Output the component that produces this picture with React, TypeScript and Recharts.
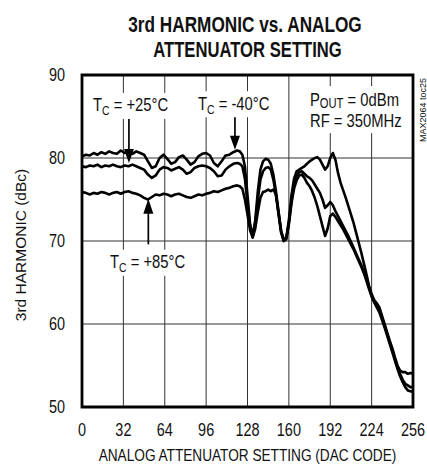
import React from 'react';
import {
  LineChart,
  Line,
  XAxis,
  YAxis,
  CartesianGrid,
  ReferenceArea,
  ReferenceLine,
  ReferenceDot,
} from 'recharts';

// DAC code (x axis)
const codes = [
  0, 3, 6, 9, 12, 15, 18, 21, 24, 27, 30, 33, 36, 39, 42, 45, 48, 51, 54, 57,
  60, 63, 66, 69, 72, 75, 78, 81, 84, 87, 90, 93, 96, 99, 102, 105, 108, 111,
  114, 117, 120, 122, 124, 126, 128, 130, 132, 134, 136, 138, 140, 142, 144,
  146, 148, 150, 152, 154, 156, 158, 160, 162, 164, 166, 168, 170, 172, 174,
  176, 178, 180, 182, 184, 186, 188, 190, 192, 194, 196, 198, 200, 202, 204,
  206, 208, 210, 212, 214, 216, 218, 220, 222, 224, 226, 228, 230, 232, 234,
  236, 238, 240, 242, 244, 246, 248, 250, 252, 254, 256,
];

// 3rd harmonic (dBc), TC = -40°C
const tcMinus40 = [
  80.2, 80.4, 80.3, 80.6, 80.4, 80.7, 80.5, 80.8, 80.6, 80.5, 80.9, 80.6, 80.7,
  80.5, 80.8, 80.6, 80.4, 79.6, 78.8, 79.0, 80.0, 80.4, 79.9, 79.3, 79.5, 80.1,
  80.3, 79.8, 79.2, 79.5, 80.2, 80.5, 80.6, 80.3, 79.4, 79.0, 79.6, 80.3, 80.4,
  80.7, 80.9, 80.8, 80.4, 79.0, 75.5, 72.0, 70.6, 72.5, 76.0, 78.6, 79.6, 79.9,
  79.8, 79.3, 78.0, 76.0, 73.5, 71.2, 70.2, 70.4, 72.5, 75.5, 77.5, 78.4, 78.6,
  78.8, 79.0, 79.3, 79.6, 79.8, 80.0, 80.1, 79.8, 79.2, 78.6, 79.0, 80.0, 80.6,
  79.8, 78.2, 77.0, 76.1, 75.2, 74.2, 73.2, 72.2, 71.0, 69.8, 68.6, 67.3, 66.0,
  64.6, 63.6, 62.9, 62.5, 62.0, 61.0, 60.0, 59.0, 58.0, 57.1, 56.0, 55.0, 54.4,
  54.2, 54.2, 54.0, 54.1, 54.0,
];

// 3rd harmonic (dBc), TC = +25°C
const tcPlus25 = [
  79.0, 78.9, 79.1, 79.0, 79.2, 78.9, 79.1, 79.0, 79.2, 79.0, 78.9, 79.1, 79.0,
  79.2, 79.0, 78.8, 78.6, 78.0, 77.6, 77.9, 78.6, 78.9, 78.8, 78.5, 78.7, 78.9,
  78.6, 78.1, 78.3, 78.8, 79.0, 79.1, 79.0, 78.8, 78.4, 77.8, 77.9, 78.6, 79.0,
  79.3, 79.4, 79.3, 79.0, 77.5, 74.5, 71.8, 70.5, 72.2, 75.0, 77.4, 78.4, 78.8,
  78.9, 78.6, 77.4, 75.5, 73.2, 71.0, 70.0, 70.2, 72.2, 74.8, 76.8, 77.9, 78.3,
  78.4, 78.1, 77.8, 77.6, 77.3, 76.8, 76.3, 75.8, 75.0, 74.0, 74.3, 74.7, 74.3,
  73.6, 73.0, 72.4, 71.8, 71.2, 70.6, 69.9, 69.2, 68.5, 67.8, 67.1, 66.3, 65.4,
  64.4, 63.4, 62.8, 62.4, 61.8, 60.8, 59.8, 58.8, 57.8, 56.8, 55.8, 54.8, 54.0,
  53.3, 52.8, 52.6, 52.4, 52.4,
];

// 3rd harmonic (dBc), TC = +85°C
const tcPlus85 = [
  75.9, 75.8, 75.6, 75.8, 75.7, 75.9, 75.8, 75.6, 75.8, 75.9, 75.7, 75.9, 76.0,
  75.8, 75.7, 75.5, 75.2, 75.0, 75.3, 75.6, 75.5, 75.7, 75.6, 75.4, 75.6, 75.7,
  75.5, 75.3, 75.2, 75.4, 75.6, 75.5, 75.7, 75.8, 76.0, 75.9, 76.1, 76.3, 76.4,
  76.6, 76.7, 76.6, 76.3, 75.0, 73.2, 71.3, 70.4, 71.5, 73.5, 75.2, 75.9, 76.0,
  76.2, 76.0, 76.2, 75.6, 73.5, 71.2, 70.0, 70.3, 72.0, 74.5, 76.3, 77.3, 77.9,
  78.0, 77.6, 77.0, 76.6, 76.0, 75.2, 74.2, 73.0, 71.8, 70.6, 71.5, 73.0, 73.3,
  72.9, 72.4, 71.9, 71.4, 70.8, 70.2, 69.6, 69.0, 68.3, 67.6, 66.9, 66.1, 65.2,
  64.2, 63.3, 62.6, 62.0, 61.4, 60.5, 59.6, 58.6, 57.6, 56.6, 55.6, 54.6, 53.7,
  53.0, 52.4, 52.0, 51.9, 51.8,
];

const xTicks = [0, 32, 64, 96, 128, 160, 192, 224, 256];
const yTicks = [50, 60, 70, 80, 90];

const titleLines = ['3rd HARMONIC vs. ANALOG', 'ATTENUATOR SETTING'];
const xTitle = 'ANALOG ATTENUATOR SETTING (DAC CODE)';
const yTitle = '3rd HARMONIC (dBc)';
const figureId = 'MAX2064 toc25';

const rows = codes.map((c, i) => ({
  code: c,
  m40: tcMinus40[i],
  p25: tcPlus25[i],
  p85: tcPlus85[i],
}));

const FONT = '"Liberation Sans", Arial, sans-serif';
const SX = 0.8;
const FS = 18.5;

const XTick = (props: any) => {
  const { x, y, payload } = props;
  return (
    <text
      transform={`translate(${x},${y + 23}) scale(0.78,1)`}
      textAnchor="middle"
      dominantBaseline="central"
      fontSize={18.5}
      fontFamily={FONT}
      fill="#111"
    >
      {payload.value}
    </text>
  );
};

const YTick = (props: any) => {
  const { x, y, payload } = props;
  return (
    <text
      transform={`translate(${x - 17},${y}) scale(0.78,1)`}
      textAnchor="end"
      dominantBaseline="central"
      fontSize={18.5}
      fontFamily={FONT}
      fill="#111"
    >
      {payload.value}
    </text>
  );
};

const TcLabel = ({ cx, cy, temp }: any) => (
  <g transform={`translate(${cx},${cy}) scale(${SX},1)`}>
    <rect x={-6} y={-12} width={106} height={26} fill="#fff" />
    <text x={0} y={6.6} fontSize={FS} fontFamily={FONT} fill="#111">
      T
      <tspan fontSize={13} dy={4}>
        C
      </tspan>
      <tspan dy={-4}>{` = ${temp}`}</tspan>
    </text>
  </g>
);

const CondLabel = ({ cx, cy }: any) => (
  <g transform={`translate(${cx},${cy}) scale(${SX},1)`}>
    <rect x={-6} y={-13} width={126} height={47} fill="#fff" />
    <text x={0} y={6.6} fontSize={FS} fontFamily={FONT} fill="#111">
      P
      <tspan fontSize={14} dy={2}>
        OUT
      </tspan>
      <tspan dy={-2}>{' = 0dBm'}</tspan>
    </text>
    <text x={0} y={27.6} fontSize={FS} fontFamily={FONT} fill="#111">
      RF = 350MHz
    </text>
  </g>
);

const ArrowDown = ({ cx, cy }: any) => (
  <polygon points={`${cx},${cy} ${cx - 5},${cy - 14} ${cx + 5},${cy - 14}`} fill="#000" />
);
const ArrowUp = ({ cx, cy }: any) => (
  <polygon points={`${cx},${cy} ${cx - 5},${cy + 15} ${cx + 5},${cy + 15}`} fill="#000" />
);

export default function App() {
  return (
    <div
      style={{
        position: 'absolute',
        left: 0,
        top: 0,
        width: 427,
        height: 465,
        background: '#fff',
      }}
    >
      <LineChart
        width={427}
        height={465}
        data={rows}
        margin={{ top: 75, right: 14, bottom: 0, left: 0 }}
      >
        <CartesianGrid stroke="#333" strokeWidth={1} />
        <XAxis
          dataKey="code"
          type="number"
          domain={[0, 256]}
          ticks={xTicks}
          height={58}
          axisLine={false}
          tickLine={false}
          tickSize={0}
          tickMargin={0}
          tick={<XTick />}
          interval={0}
        />
        <YAxis
          type="number"
          domain={[50, 90]}
          ticks={yTicks}
          width={82}
          axisLine={false}
          tickLine={false}
          tickSize={0}
          tickMargin={0}
          tick={<YTick />}
          interval={0}
        />
        <Line dataKey="m40" stroke="#000" strokeWidth={2.6} dot={false} isAnimationActive={false} strokeLinejoin="round" />
        <Line dataKey="p25" stroke="#000" strokeWidth={2.6} dot={false} isAnimationActive={false} strokeLinejoin="round" />
        <Line dataKey="p85" stroke="#000" strokeWidth={2.6} dot={false} isAnimationActive={false} strokeLinejoin="round" />

        <ReferenceDot x={8.5} y={86.4} r={0} ifOverflow="visible" shape={(p: any) => <TcLabel cx={p.cx} cy={p.cy} temp="+25°C" />} />
        <ReferenceDot x={89.7} y={86.6} r={0} ifOverflow="visible" shape={(p: any) => <TcLabel cx={p.cx} cy={p.cy} temp="-40°C" />} />
        <ReferenceDot x={21.7} y={67.5} r={0} ifOverflow="visible" shape={(p: any) => <TcLabel cx={p.cx} cy={p.cy} temp="+85°C" />} />
        <ReferenceDot x={176.3} y={87.1} r={0} ifOverflow="visible" shape={(p: any) => <CondLabel cx={p.cx} cy={p.cy} />} />

        <ReferenceLine segment={[{ x: 36.3, y: 84.7 }, { x: 36.3, y: 80.5 }]} stroke="#000" strokeWidth={1.7} ifOverflow="visible" />
        <ReferenceDot x={36.3} y={79.4} r={0} ifOverflow="visible" shape={(p: any) => <ArrowDown cx={p.cx} cy={p.cy} />} />
        <ReferenceLine segment={[{ x: 118.3, y: 85.2 }, { x: 118.3, y: 82.0 }]} stroke="#000" strokeWidth={1.7} ifOverflow="visible" />
        <ReferenceDot x={118.3} y={81.0} r={0} ifOverflow="visible" shape={(p: any) => <ArrowDown cx={p.cx} cy={p.cy} />} />
        <ReferenceLine segment={[{ x: 51.3, y: 69.6 }, { x: 51.3, y: 74.0 }]} stroke="#000" strokeWidth={1.7} ifOverflow="visible" />
        <ReferenceDot x={51.3} y={75.1} r={0} ifOverflow="visible" shape={(p: any) => <ArrowUp cx={p.cx} cy={p.cy} />} />

        <ReferenceArea x1={0} x2={256} y1={50} y2={90} fill="none" fillOpacity={0} stroke="#000" strokeWidth={2.8} ifOverflow="visible" />
      </LineChart>
      <svg
        width={427}
        height={465}
        style={{ position: 'absolute', left: 0, top: 0, pointerEvents: 'none' }}
      >
        <text transform="translate(245,31.5) scale(0.765,1)" textAnchor="middle" fontSize={22.5} fontWeight="bold" fontFamily={FONT} fill="#111">
          {titleLines[0]}
        </text>
        <text transform="translate(247.5,56.5) scale(0.74,1)" textAnchor="middle" fontSize={22.5} fontWeight="bold" fontFamily={FONT} fill="#111">
          {titleLines[1]}
        </text>
        <text transform="translate(247.5,460.5) scale(0.827,1)" textAnchor="middle" fontSize={16.5} fontFamily={FONT} fill="#111">
          {xTitle}
        </text>
        <text transform="translate(26,245) rotate(-90)" textAnchor="middle" fontSize={15.5} fontFamily={FONT} fill="#111">
          {yTitle}
        </text>
        <text transform="translate(425.5,110) rotate(-90)" textAnchor="middle" fontSize={9} fontFamily={FONT} fill="#111">
          {figureId}
        </text>
      </svg>
    </div>
  );
}
